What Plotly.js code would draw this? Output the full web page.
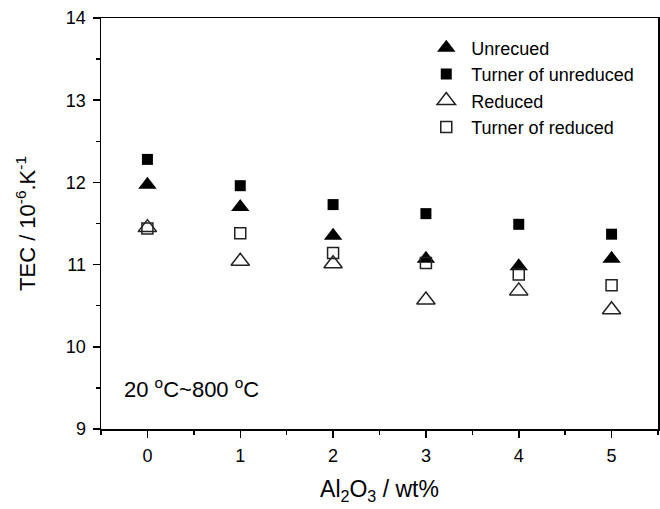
<!DOCTYPE html>
<html>
<head>
<meta charset="utf-8">
<script src="https://cdn.plot.ly/plotly-3.0.1.min.js"></script>
<style>html,body{margin:0;padding:0;background:#fff}#chart{width:660px;height:509px}</style>
</head>
<body>
<div id="chart"></div>
<script>
var al2o3 = [0, 1, 2, 3, 4, 5];
var unreduced = [11.97, 11.70, 11.35, 11.07, 10.98, 11.07];
var turnerUnreduced = [12.28, 11.96, 11.73, 11.62, 11.49, 11.37];
var reduced = [11.45, 11.04, 11.01, 10.57, 10.68, 10.45];
var turnerReduced = [11.44, 11.38, 11.14, 11.02, 10.88, 10.75];
var seriesNames = ["Unrecued", "Turner of unreduced", "Reduced", "Turner of reduced"];
var xTicks = [0, 1, 2, 3, 4, 5];
var yTicks = [9, 10, 11, 12, 13, 14];

var FONT = "Liberation Sans, Arial, sans-serif";
function tr(y, name, symbol, size) {
  var open = symbol.indexOf("open") >= 0;
  return {
    x: al2o3, y: y, name: name, type: "scatter", mode: "markers",
    marker: {symbol: symbol, size: size, color: open ? "#222" : "#000",
             line: {width: open ? 1.5 : 0, color: "#222"}}
  };
}
var data = [
  tr(unreduced, seriesNames[0], "triangle-up", 16),
  tr(turnerUnreduced, seriesNames[1], "square", 11),
  tr(reduced, seriesNames[2], "triangle-up-open", 16),
  tr(turnerReduced, seriesNames[3], "square-open", 11)
];
var axisCommon = {
  showline: true, linecolor: "#000", linewidth: 1.5, mirror: true,
  ticks: "outside", ticklen: 7, tickwidth: 1.5, tickcolor: "#000",
  showgrid: false, zeroline: false, ticklabelstandoff: 3,
  tickfont: {family: FONT, size: 18, color: "#000"},
  minor: {ticks: "outside", ticklen: 4, tickwidth: 1.5, tickcolor: "#000", dtick: 0.5}
};
var layout = {
  width: 660, height: 509,
  margin: {l: 101, r: 2, t: 18, b: 80},
  paper_bgcolor: "#fff", plot_bgcolor: "#fff",
  font: {family: FONT, color: "#000"},
  showlegend: true,
  legend: {x: 0.575, y: 0.972, xanchor: "left", yanchor: "top", bgcolor: "rgba(0,0,0,0)",
           itemwidth: 40,
           font: {family: FONT, size: 18, color: "#000"}, tracegroupgap: 0},
  xaxis: Object.assign({}, axisCommon, {
    range: [-0.5, 5.5], tickvals: xTicks, ticktext: xTicks.map(String),
    title: {text: "Al<sub>2</sub>O<sub>3</sub> / wt%", font: {family: FONT, size: 23, color: "#000"}, standoff: 16}
  }),
  yaxis: Object.assign({}, axisCommon, {
    range: [9, 14], tickvals: yTicks, ticktext: yTicks.map(String),
    title: {text: "TEC / 10<sup>-6</sup>.K<sup>-1</sup>", font: {family: FONT, size: 22, color: "#000"}, standoff: 24}
  }),
  annotations: [{
    xref: "paper", yref: "paper", x: 0.037, y: 0.1, xanchor: "left", yanchor: "middle",
    text: "20 <sup>o</sup>C~800 <sup>o</sup>C", showarrow: false,
    font: {family: FONT, size: 22, color: "#000"}
  }]
};
Plotly.newPlot("chart", data, layout, {staticPlot: true, displayModeBar: false});
</script>
</body>
</html>
